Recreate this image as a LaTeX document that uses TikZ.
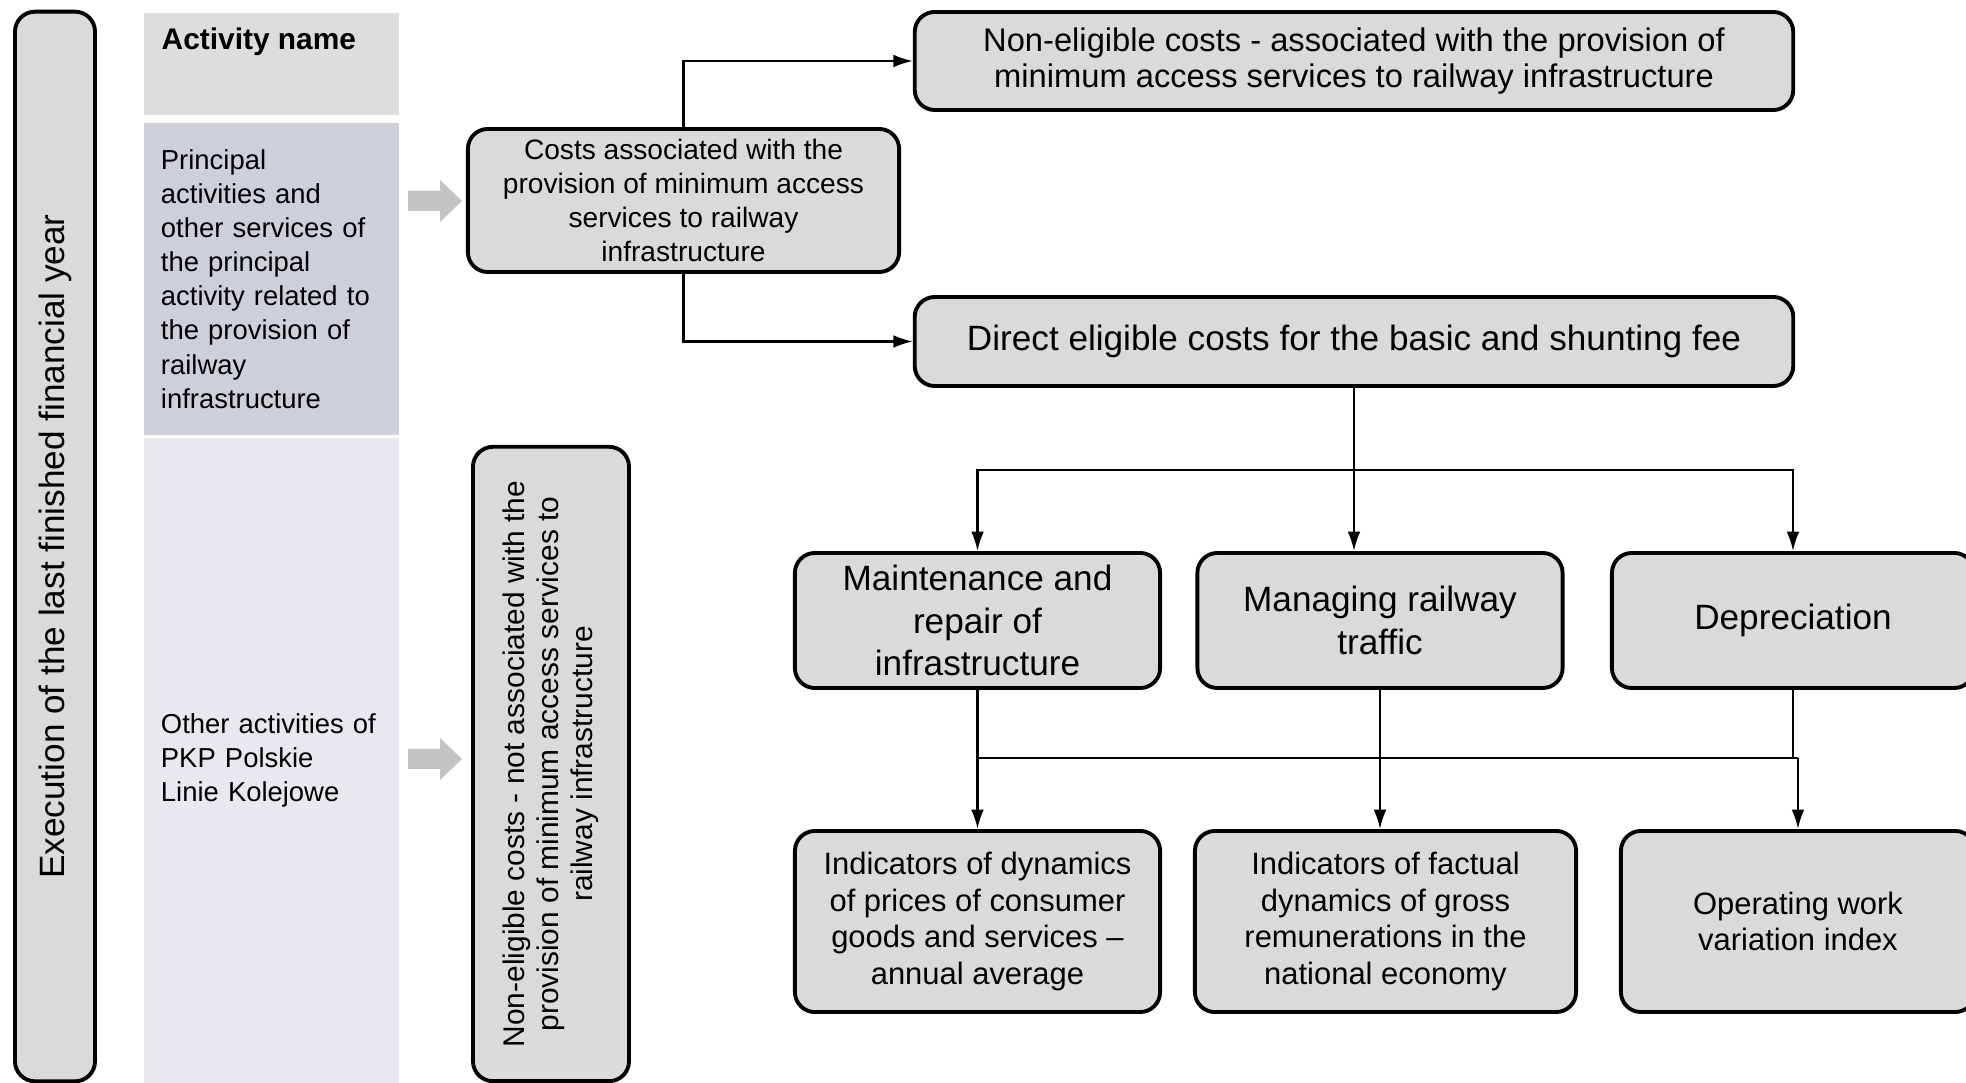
\documentclass[tikz,border=0pt]{standalone}
\usepackage{fontspec}
\setmainfont{Liberation Sans}
\usetikzlibrary{arrows.meta}
\definecolor{boxgray}{HTML}{D9DADA}
\definecolor{headgray}{HTML}{DCDDDD}
\definecolor{maingray}{HTML}{CDD0D8}
\definecolor{othergray}{HTML}{E8E9EC}
\definecolor{arrowgray}{HTML}{C3C3C3}

\begin{document}
\begin{tikzpicture}[x=0.01cm,y=-0.01cm,
  cbox/.style={draw=black,line width=1.1pt,fill=boxgray,rounded corners=0.2cm,align=center,inner sep=0pt},
  col/.style={inner xsep=0.17cm,inner ysep=0pt,align=left,text width=2.21cm,font=\fontsize{7.8}{9.7}\selectfont},
  link/.style={line width=0.6pt,-{Latex[length=5.5pt,width=3.6pt]}}]

  \useasboundingbox (0,0) rectangle (1966,1083);

  % left column
  \node (year) [cbox,rotate=90,minimum width=10.69cm,minimum height=0.8cm,font=\fontsize{10}{12}\selectfont] at (55,546.5) {Execution of the last finished financial year};
  \node (head) [fill=headgray,minimum width=2.55cm,minimum height=1.02cm,inner sep=0pt] at (271.5,64) {};
  \node (headtxt) [anchor=west,inner sep=0pt,font=\bfseries\fontsize{8.5}{10}\selectfont] at (161,42) {Activity name};
  \node (princ) [col,fill=maingray,minimum height=3.12cm] at (271.5,279) {Principal\\activities and\\other services of\\the principal\\activity related to\\the provision of\\railway\\infrastructure};
  \node (other) [col,fill=othergray,minimum height=6.45cm] at (271.5,760.5) {Other activities of\\PKP Polskie\\Linie Kolejowe};

  \foreach \ay in {201,759}
    \fill[arrowgray] (408,\ay-10) -- (440,\ay-10) -- (440,\ay-21) -- (462,\ay) -- (440,\ay+21) -- (440,\ay+10) -- (408,\ay+10) -- cycle;

  % cost boxes
  \node (cost) [cbox,minimum width=4.31cm,minimum height=1.43cm,font=\fontsize{8}{9.7}\selectfont] at (683.5,200.5) {Costs associated with the\\provision of minimum access\\services to railway\\infrastructure};
  \node (nonel) [cbox,minimum width=8.78cm,minimum height=0.98cm,font=\fontsize{9.3}{10.3}\selectfont] at (1354,61) {Non-eligible costs - associated with the provision of\\minimum access services to railway infrastructure};
  \node (direct) [cbox,minimum width=8.78cm,minimum height=0.89cm,font=\fontsize{10}{12}\selectfont] at (1354,341.5) {Direct eligible costs for the basic and shunting fee};
  \node (nonelv) [cbox,rotate=90,minimum width=6.34cm,minimum height=1.56cm,font=\fontsize{8.5}{9.6}\selectfont] at (551,764) {Non-eligible costs - not associated with the\\provision of minimum access services to\\railway infrastructure};

  % cost types
  \node (maint) [cbox,minimum width=3.65cm,minimum height=1.35cm,font=\fontsize{10}{12}\selectfont] at (977.5,620.5) {Maintenance and\\repair of\\infrastructure};
  \node (manage) [cbox,minimum width=3.65cm,minimum height=1.35cm,font=\fontsize{10}{12}\selectfont] at (1380,620.5) {Managing railway\\traffic};
  \node (deprec) [cbox,minimum width=3.62cm,minimum height=1.35cm,font=\fontsize{10}{12}\selectfont] at (1793,620.5) {Depreciation};

  % indicators
  \node (indic1) [cbox,minimum width=3.65cm,minimum height=1.81cm,font=\fontsize{8.8}{10.4}\selectfont] at (977.5,921.5) {Indicators of dynamics\\of prices of consumer\\goods and services --\\annual average};
  \node (indic2) [cbox,minimum width=3.81cm,minimum height=1.81cm,font=\fontsize{8.8}{10.4}\selectfont] at (1385.5,921.5) {Indicators of factual\\dynamics of gross\\remunerations in the\\national economy};
  \node (oper) [cbox,minimum width=3.54cm,minimum height=1.81cm,font=\fontsize{8.8}{10.4}\selectfont] at (1798,921.5) {Operating work\\variation index};

  \coordinate (split) at (1354,470);
  \coordinate (join) at (0,758);

  \draw[link] (cost.north) |- (nonel.west);
  \draw[link] (cost.south) |- (direct.west);
  \draw[link] (direct.south) -- (direct.south |- manage.north);
  \draw[link] (split) -| (maint.north);
  \draw[link] (split) -| (deprec.north);

  \draw[link] (maint.south) -- (indic1.north);
  \draw[link] (manage.south) -- (manage.south |- indic2.north);
  \draw[line width=0.6pt] (deprec.south) -- (deprec.south |- join) -- (oper.north |- join);
  \draw[link] (oper.north |- join) -- (oper.north);
  \draw[line width=0.6pt] (maint.south |- join) -- (deprec.south |- join);
\end{tikzpicture}
\end{document}
